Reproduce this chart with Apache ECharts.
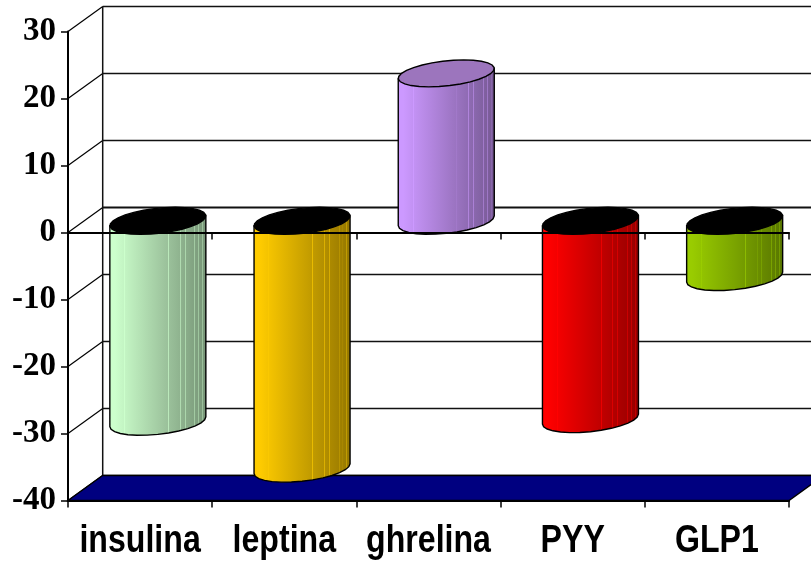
<!DOCTYPE html>
<html>
<head>
    <meta charset="utf-8">
    <script src="https://cdn.jsdelivr.net/npm/echarts@6/dist/echarts.min.js"></script>
    <style>
        html, body { margin: 0; padding: 0; background: #fff; }
        #main { width: 811px; height: 564px; }
    </style>
</head>
<body>
<div id="main"></div>
<script type="text/javascript">
    var categories = ['insulina', 'leptina', 'ghrelina', 'PYY', 'GLP1'];
    var values = [-30, -37, 22, -29.6, -8.4];
    var wallTicks = [-40, -30, -20, -10, 0, 10, 20, 30];

    var bodyColors = ['#CCFFCC', '#FFCC00', '#CC99FF', '#FF0000', '#99CC00'];
    var capColors = ['#000000', '#000000', '#9C75BD', '#000000', '#000000'];
    // light hairlines between the facets of the cylinder
    var facetLines = [0.16, 0.61, 0.73, 0.78, 0.88, 0.92, 0.96];

    // depth of the fake 3d box, in pixels
    var depthX = 34.7, depthY = -25;
    var ellipseA = 44.7, ellipseVx = 17.5, ellipseVy = 13.5;

    function shade(hex, k) {
        var r = parseInt(hex.substr(1, 2), 16), g = parseInt(hex.substr(3, 2), 16), b = parseInt(hex.substr(5, 2), 16);
        return 'rgb(' + Math.round(r * k) + ',' + Math.round(g * k) + ',' + Math.round(b * k) + ')';
    }

    function bodyGradient(hex) {
        var stops = [{offset: 0, color: shade(hex, 1)}, {offset: 0.06, color: shade(hex, 1)}];
        facetLines.forEach(function (f) {
            var k = 1 - 0.42 * (f - 0.06) / 0.94;
            // facet line is the same hue, only a bit lighter
            var light = shade(hex, Math.min(1, k + 0.16));
            stops.push({offset: f - 0.005, color: shade(hex, k)});
            stops.push({offset: f - 0.004, color: light});
            stops.push({offset: f + 0.004, color: light});
            stops.push({offset: f + 0.005, color: shade(hex, k)});
        });
        stops.push({offset: 1, color: shade(hex, 0.58)});
        return new echarts.graphic.LinearGradient(0, 0, 1, 0, stops);
    }

    function ellipsePoint(cx, cy, t) {
        return [cx + ellipseA * Math.cos(t) + ellipseVx * Math.sin(t), cy - ellipseVy * Math.sin(t)];
    }

    function ellipseRing(cx, cy) {
        var pts = [];
        for (var i = 0; i < 28; i++) {
            pts.push(ellipsePoint(cx, cy, i / 28 * Math.PI * 2));
        }
        return pts;
    }

    function renderCylinder(params, api) {
        var idx = api.value(0), val = api.value(1);
        var base = api.coord([idx, 0]), end = api.coord([idx, val]);
        var cx = base[0] + depthX / 2 + 0.4;
        var topY = Math.min(base[1], end[1]) + depthY / 2 + 0.8;
        var lowY = Math.max(base[1], end[1]) + depthY / 2 + 0.8;

        // tangent angle of the ellipse: where x reaches its extreme
        var tan = Math.atan2(ellipseVx, ellipseA);
        var leftTop = ellipsePoint(cx, topY, tan + Math.PI), rightTop = ellipsePoint(cx, topY, tan);
        var body = [rightTop, leftTop];
        for (var i = 0; i <= 14; i++) {
            body.push(ellipsePoint(cx, lowY, tan + Math.PI + i / 14 * Math.PI));
        }
        return {
            type: 'group',
            children: [{
                type: 'polygon',
                shape: {points: body},
                style: {fill: bodyGradient(bodyColors[idx]), stroke: '#000', lineWidth: 1.4}
            }, {
                type: 'polygon',
                shape: {points: ellipseRing(cx, topY)},
                style: {fill: capColors[idx], stroke: '#000', lineWidth: 1.4}
            }]
        };
    }

    function renderWall(params, api) {
        var val = api.value(1);
        var p = api.coord([0, val]);
        var box = params.coordSys;
        var left = box.x, right = box.x + box.width + depthX;
        var width = val === 0 ? 2 : 1.3;
        return {
            type: 'group',
            children: [{
                type: 'line',
                shape: {x1: left, y1: p[1], x2: left + depthX, y2: p[1] + depthY},
                style: {stroke: '#000', lineWidth: 1.2}
            }, {
                type: 'line',
                shape: {x1: left + depthX, y1: p[1] + depthY, x2: right, y2: p[1] + depthY},
                style: {stroke: '#111', lineWidth: width}
            }]
        };
    }

    function renderBackEdge(params, api) {
        var top = api.coord([0, api.value(1)]), bottom = api.coord([0, api.value(2)]);
        var x = params.coordSys.x + depthX;
        return {
            type: 'line',
            shape: {x1: x, y1: top[1] + depthY, x2: x, y2: bottom[1] + depthY},
            style: {stroke: '#111', lineWidth: 1.5}
        };
    }

    function renderFloor(params, api) {
        var y = api.coord([0, api.value(1)])[1];
        var box = params.coordSys;
        var l = box.x, r = box.x + box.width;
        return {
            type: 'polygon',
            shape: {points: [[l, y], [r, y], [r + depthX, y + depthY], [l + depthX, y + depthY]]},
            style: {fill: '#000080', stroke: '#000', lineWidth: 1.3}
        };
    }

    // the labels in the picture are squeezed sideways, axisLabel can't do that
    function renderCategoryLabel(params, api) {
        var idx = api.value(0);
        var p = api.coord([idx, wallTicks[0]]);
        return {
            type: 'text',
            x: p[0],
            y: p[1] + 41,
            scaleX: 0.845,
            style: {
                text: categories[idx],
                x: 0,
                y: 0,
                align: 'center',
                verticalAlign: 'middle',
                fill: '#000',
                font: 'bold 38px "Liberation Sans", Arial, sans-serif'
            }
        };
    }

    var myChart = echarts.init(document.getElementById('main'));
    myChart.setOption({
        animation: false,
        backgroundColor: '#fff',
        grid: {left: 68, right: 22, top: 31.5, bottom: 63.5},
        xAxis: [{
            type: 'category',
            data: categories,
            position: 'bottom',
            z: 6,
            axisLine: {onZero: false, lineStyle: {color: '#000', width: 2}},
            axisTick: {show: true, length: 7, lineStyle: {color: '#000', width: 1.5}},
            axisLabel: {show: false}
        }, {
            type: 'category',
            data: categories,
            position: 'bottom',
            z: 6,
            axisLine: {onZero: true, lineStyle: {color: '#000', width: 2}},
            axisTick: {show: true, length: 7, lineStyle: {color: '#000', width: 1.5}},
            axisLabel: {show: false}
        }],
        yAxis: {
            type: 'value',
            min: -40,
            max: 30,
            interval: 10,
            z: 6,
            splitLine: {show: false},
            axisLine: {show: true, lineStyle: {color: '#000', width: 2}},
            axisTick: {show: true, length: 7, lineStyle: {color: '#000', width: 1.5}},
            axisLabel: {
                margin: 12,
                padding: [3, 0, 0, 0],
                color: '#000',
                fontFamily: '"Liberation Serif", serif',
                fontWeight: 'bold',
                fontSize: 33
            }
        },
        series: [{
            type: 'custom',
            silent: true,
            clip: false,
            z: 1,
            renderItem: renderWall,
            encode: {x: 0, y: 1},
            data: wallTicks.map(function (v) { return [0, v]; })
        }, {
            type: 'custom',
            silent: true,
            clip: false,
            z: 1,
            renderItem: renderBackEdge,
            encode: {x: 0, y: 1},
            data: [[0, wallTicks[wallTicks.length - 1], wallTicks[0]]]
        }, {
            type: 'custom',
            silent: true,
            clip: false,
            z: 2,
            renderItem: renderFloor,
            encode: {x: 0, y: 1},
            data: [[0, wallTicks[0]]]
        }, {
            type: 'custom',
            silent: true,
            clip: false,
            z: 3,
            renderItem: renderCylinder,
            encode: {x: 0, y: 1},
            data: values.map(function (v, i) { return [i, v]; })
        }, {
            type: 'custom',
            silent: true,
            clip: false,
            z: 3,
            renderItem: renderCategoryLabel,
            encode: {x: 0, y: 1},
            data: categories.map(function (c, i) { return [i, wallTicks[0]]; })
        }]
    });
</script>
</body>
</html>
